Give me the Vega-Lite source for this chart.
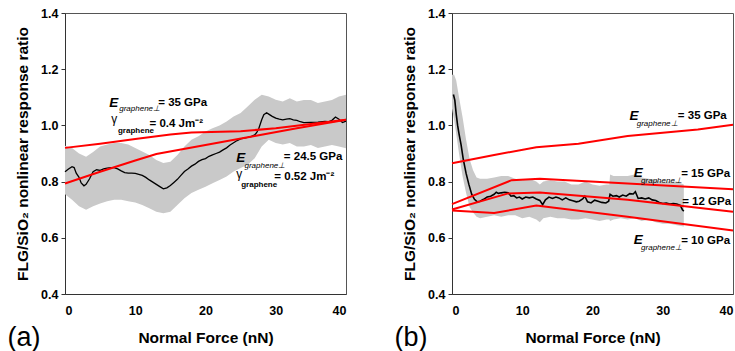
{
  "$schema": "https://vega.github.io/schema/vega-lite/v6.json",
  "padding": {"left": 6, "top": 6, "right": 0, "bottom": 0},
  "background": "white",
  "config": {
    "font": "Liberation Sans",
    "view": {"stroke": "#555", "strokeWidth": 1},
    "axis": {
      "grid": false,
      "domainColor": "#333",
      "tickColor": "#333",
      "labelColor": "#000",
      "titleColor": "#000",
      "labelFont": "Liberation Sans",
      "titleFont": "Liberation Sans",
      "labelFontWeight": "bold",
      "labelFontSize": 12.5,
      "titleFontSize": 15.5,
      "titleFontWeight": "bold"
    }
  },
  "datasets": {
    "bandA": [
      {"x": 0, "y": 0.755, "y2": 0.928}, {"x": 1, "y": 0.735, "y2": 0.92}, {"x": 2, "y": 0.712, "y2": 0.9},
      {"x": 3, "y": 0.7, "y2": 0.888}, {"x": 4, "y": 0.712, "y2": 0.905}, {"x": 5, "y": 0.722, "y2": 0.925},
      {"x": 6, "y": 0.73, "y2": 0.932}, {"x": 7, "y": 0.735, "y2": 0.937}, {"x": 8, "y": 0.735, "y2": 0.937},
      {"x": 9, "y": 0.73, "y2": 0.932}, {"x": 10, "y": 0.726, "y2": 0.92}, {"x": 11, "y": 0.717, "y2": 0.907},
      {"x": 12, "y": 0.705, "y2": 0.895}, {"x": 13, "y": 0.693, "y2": 0.877}, {"x": 14, "y": 0.687, "y2": 0.866},
      {"x": 15, "y": 0.693, "y2": 0.871}, {"x": 16, "y": 0.717, "y2": 0.895}, {"x": 17, "y": 0.741, "y2": 0.925},
      {"x": 18, "y": 0.759, "y2": 0.949}, {"x": 19, "y": 0.771, "y2": 0.961}, {"x": 20, "y": 0.782, "y2": 0.978},
      {"x": 21, "y": 0.794, "y2": 0.99}, {"x": 22, "y": 0.806, "y2": 1.0}, {"x": 23, "y": 0.818, "y2": 1.014},
      {"x": 24, "y": 0.836, "y2": 1.032}, {"x": 25, "y": 0.848, "y2": 1.044}, {"x": 26, "y": 0.86, "y2": 1.067},
      {"x": 27, "y": 0.883, "y2": 1.091}, {"x": 28, "y": 0.925, "y2": 1.109}, {"x": 29, "y": 0.949, "y2": 1.103},
      {"x": 30, "y": 0.937, "y2": 1.091}, {"x": 31, "y": 0.932, "y2": 1.085}, {"x": 32, "y": 0.937, "y2": 1.097},
      {"x": 33, "y": 0.925, "y2": 1.085}, {"x": 34, "y": 0.925, "y2": 1.09}, {"x": 35, "y": 0.93, "y2": 1.09},
      {"x": 36, "y": 0.92, "y2": 1.08}, {"x": 37, "y": 0.925, "y2": 1.085}, {"x": 38, "y": 0.93, "y2": 1.09},
      {"x": 39, "y": 0.925, "y2": 1.103}, {"x": 40, "y": 0.919, "y2": 1.109}
    ],
    "blackA": [
      {"x": 0, "y": 0.835}, {"x": 0.5, "y": 0.845}, {"x": 1, "y": 0.853}, {"x": 1.3, "y": 0.85}, {"x": 1.6, "y": 0.83},
      {"x": 2, "y": 0.815}, {"x": 2.3, "y": 0.795}, {"x": 2.7, "y": 0.785}, {"x": 3, "y": 0.79}, {"x": 3.5, "y": 0.81},
      {"x": 4, "y": 0.835}, {"x": 4.5, "y": 0.842}, {"x": 5, "y": 0.84}, {"x": 5.5, "y": 0.845}, {"x": 6, "y": 0.848},
      {"x": 6.5, "y": 0.85}, {"x": 7, "y": 0.85}, {"x": 7.5, "y": 0.845}, {"x": 8, "y": 0.838}, {"x": 8.5, "y": 0.832},
      {"x": 9, "y": 0.83}, {"x": 9.5, "y": 0.83}, {"x": 10, "y": 0.829}, {"x": 10.5, "y": 0.826}, {"x": 11, "y": 0.822},
      {"x": 11.5, "y": 0.815}, {"x": 12, "y": 0.806}, {"x": 12.5, "y": 0.798}, {"x": 13, "y": 0.79}, {"x": 13.5, "y": 0.782},
      {"x": 14, "y": 0.774}, {"x": 14.5, "y": 0.778}, {"x": 15, "y": 0.786}, {"x": 15.5, "y": 0.797}, {"x": 16, "y": 0.808},
      {"x": 16.5, "y": 0.822}, {"x": 17, "y": 0.836}, {"x": 17.5, "y": 0.845}, {"x": 18, "y": 0.855}, {"x": 18.5, "y": 0.862},
      {"x": 19, "y": 0.872}, {"x": 19.5, "y": 0.878}, {"x": 20, "y": 0.882}, {"x": 20.5, "y": 0.89}, {"x": 21, "y": 0.895},
      {"x": 21.5, "y": 0.9}, {"x": 22, "y": 0.905}, {"x": 22.5, "y": 0.913}, {"x": 23, "y": 0.92}, {"x": 23.5, "y": 0.93},
      {"x": 24, "y": 0.938}, {"x": 24.5, "y": 0.946}, {"x": 25, "y": 0.952}, {"x": 25.5, "y": 0.955}, {"x": 26, "y": 0.957},
      {"x": 26.5, "y": 0.96}, {"x": 27, "y": 0.966}, {"x": 27.3, "y": 0.975}, {"x": 27.6, "y": 0.99}, {"x": 28, "y": 1.02},
      {"x": 28.3, "y": 1.038}, {"x": 28.7, "y": 1.045}, {"x": 29, "y": 1.04}, {"x": 29.5, "y": 1.032}, {"x": 30, "y": 1.026},
      {"x": 30.5, "y": 1.022}, {"x": 31, "y": 1.02}, {"x": 31.5, "y": 1.022}, {"x": 32, "y": 1.024}, {"x": 32.5, "y": 1.02},
      {"x": 33, "y": 1.018}, {"x": 33.5, "y": 1.013}, {"x": 34, "y": 1.01}, {"x": 35, "y": 1.011}, {"x": 36, "y": 1.012},
      {"x": 37, "y": 1.014}, {"x": 37.5, "y": 1.013}, {"x": 38, "y": 1.018}, {"x": 38.5, "y": 1.03}, {"x": 39, "y": 1.022},
      {"x": 39.5, "y": 1.01}, {"x": 40, "y": 1.015}
    ],
    "redA": [
      {"s": "35", "x": 0, "y": 0.92}, {"s": "35", "x": 5, "y": 0.935}, {"s": "35", "x": 10, "y": 0.952},
      {"s": "35", "x": 15, "y": 0.968}, {"s": "35", "x": 18, "y": 0.975}, {"s": "35", "x": 25, "y": 0.979},
      {"s": "35", "x": 30, "y": 0.99}, {"s": "35", "x": 35, "y": 1.005}, {"s": "35", "x": 40, "y": 1.02},
      {"s": "24.5", "x": 0, "y": 0.793}, {"s": "24.5", "x": 5, "y": 0.835}, {"s": "24.5", "x": 10, "y": 0.875},
      {"s": "24.5", "x": 13, "y": 0.898}, {"s": "24.5", "x": 20, "y": 0.93}, {"s": "24.5", "x": 27, "y": 0.962},
      {"s": "24.5", "x": 33, "y": 0.99}, {"s": "24.5", "x": 40, "y": 1.02}
    ],
    "textA": [
      {"r": "E", "t": "E", "x": 6.3, "y": 1.081},
      {"r": "subE", "t": "graphene⊥", "x": 7.72, "y": 1.058},
      {"r": "main", "t": "= 35 GPa", "x": 13.27, "y": 1.079},
      {"r": "g", "t": "γ", "x": 6.59, "y": 1.024},
      {"r": "subg", "t": "graphene", "x": 7.54, "y": 0.98},
      {"r": "main", "t": "= 0.4 Jm⁻²", "x": 12.03, "y": 1.005},
      {"r": "E", "t": "E", "x": 24.37, "y": 0.885},
      {"r": "subE", "t": "graphene⊥", "x": 25.55, "y": 0.857},
      {"r": "main", "t": "= 24.5 GPa", "x": 31.15, "y": 0.886},
      {"r": "g", "t": "γ", "x": 24.37, "y": 0.826},
      {"r": "subg", "t": "graphene", "x": 25.08, "y": 0.787},
      {"r": "main", "t": "= 0.52 Jm⁻²", "x": 29.8, "y": 0.818},
      {"r": "tag", "t": "(a)", "x": -8.2, "y": 0.243}
    ],
    "bandB": [
      {"x": 0, "y": 1.06, "y2": 1.18}, {"x": 0.3, "y": 1.02, "y2": 1.18}, {"x": 0.6, "y": 0.97, "y2": 1.16},
      {"x": 1, "y": 0.9, "y2": 1.1}, {"x": 1.5, "y": 0.82, "y2": 1.03}, {"x": 2, "y": 0.76, "y2": 0.95},
      {"x": 2.5, "y": 0.71, "y2": 0.88}, {"x": 3, "y": 0.69, "y2": 0.84}, {"x": 3.5, "y": 0.675, "y2": 0.815},
      {"x": 4, "y": 0.67, "y2": 0.81}, {"x": 5, "y": 0.675, "y2": 0.81}, {"x": 6, "y": 0.68, "y2": 0.815},
      {"x": 7, "y": 0.675, "y2": 0.82}, {"x": 8, "y": 0.68, "y2": 0.82}, {"x": 9, "y": 0.68, "y2": 0.81},
      {"x": 10, "y": 0.67, "y2": 0.805}, {"x": 11, "y": 0.675, "y2": 0.81}, {"x": 12, "y": 0.665, "y2": 0.8},
      {"x": 12.5, "y": 0.655, "y2": 0.79}, {"x": 13, "y": 0.67, "y2": 0.8}, {"x": 14, "y": 0.675, "y2": 0.805},
      {"x": 15, "y": 0.67, "y2": 0.8}, {"x": 16, "y": 0.67, "y2": 0.8}, {"x": 17, "y": 0.665, "y2": 0.79},
      {"x": 18, "y": 0.665, "y2": 0.79}, {"x": 19, "y": 0.67, "y2": 0.8}, {"x": 20, "y": 0.665, "y2": 0.79},
      {"x": 21, "y": 0.66, "y2": 0.785}, {"x": 22, "y": 0.665, "y2": 0.79}, {"x": 22.4, "y": 0.665, "y2": 0.79},
      {"x": 22.5, "y": 0.66, "y2": 0.825}, {"x": 23, "y": 0.665, "y2": 0.82}, {"x": 24, "y": 0.67, "y2": 0.82},
      {"x": 25, "y": 0.665, "y2": 0.82}, {"x": 26, "y": 0.67, "y2": 0.825}, {"x": 27, "y": 0.66, "y2": 0.815},
      {"x": 28, "y": 0.665, "y2": 0.81}, {"x": 29, "y": 0.655, "y2": 0.805}, {"x": 30, "y": 0.65, "y2": 0.8},
      {"x": 31, "y": 0.65, "y2": 0.8}, {"x": 32, "y": 0.645, "y2": 0.8}, {"x": 33, "y": 0.64, "y2": 0.79}
    ],
    "blackB": [
      {"x": 0.2, "y": 1.11}, {"x": 0.4, "y": 1.09}, {"x": 0.6, "y": 1.04}, {"x": 0.8, "y": 1.0}, {"x": 1.0, "y": 0.97},
      {"x": 1.3, "y": 0.93}, {"x": 1.6, "y": 0.88}, {"x": 2.0, "y": 0.83}, {"x": 2.4, "y": 0.79}, {"x": 2.8, "y": 0.755},
      {"x": 3.2, "y": 0.737}, {"x": 3.6, "y": 0.728}, {"x": 4.0, "y": 0.73}, {"x": 4.5, "y": 0.737}, {"x": 5.0, "y": 0.745},
      {"x": 5.5, "y": 0.748}, {"x": 6.0, "y": 0.755}, {"x": 6.3, "y": 0.762}, {"x": 6.6, "y": 0.758}, {"x": 7.0, "y": 0.76},
      {"x": 7.5, "y": 0.762}, {"x": 8.0, "y": 0.76}, {"x": 8.4, "y": 0.748}, {"x": 8.8, "y": 0.75}, {"x": 9.2, "y": 0.742},
      {"x": 9.6, "y": 0.745}, {"x": 10.0, "y": 0.738}, {"x": 10.5, "y": 0.745}, {"x": 11.0, "y": 0.742}, {"x": 11.5, "y": 0.745},
      {"x": 12.0, "y": 0.738}, {"x": 12.5, "y": 0.733}, {"x": 12.9, "y": 0.718}, {"x": 13.3, "y": 0.735}, {"x": 13.8, "y": 0.745},
      {"x": 14.3, "y": 0.74}, {"x": 14.8, "y": 0.745}, {"x": 15.2, "y": 0.742}, {"x": 15.7, "y": 0.735}, {"x": 16.2, "y": 0.742},
      {"x": 16.7, "y": 0.735}, {"x": 17.2, "y": 0.732}, {"x": 17.7, "y": 0.728}, {"x": 18.1, "y": 0.73}, {"x": 18.6, "y": 0.738},
      {"x": 18.9, "y": 0.748}, {"x": 19.3, "y": 0.728}, {"x": 19.8, "y": 0.724}, {"x": 20.3, "y": 0.734}, {"x": 20.8, "y": 0.73},
      {"x": 21.3, "y": 0.726}, {"x": 21.9, "y": 0.724}, {"x": 22.3, "y": 0.73}, {"x": 22.5, "y": 0.755}, {"x": 22.9, "y": 0.748},
      {"x": 23.4, "y": 0.75}, {"x": 23.8, "y": 0.745}, {"x": 24.3, "y": 0.752}, {"x": 24.8, "y": 0.748}, {"x": 25.3, "y": 0.757},
      {"x": 25.8, "y": 0.756}, {"x": 26.1, "y": 0.764}, {"x": 26.5, "y": 0.74}, {"x": 27.0, "y": 0.742}, {"x": 27.5, "y": 0.738},
      {"x": 28.0, "y": 0.742}, {"x": 28.5, "y": 0.735}, {"x": 29.0, "y": 0.733}, {"x": 29.5, "y": 0.726}, {"x": 30.0, "y": 0.722},
      {"x": 30.5, "y": 0.724}, {"x": 31.0, "y": 0.72}, {"x": 31.5, "y": 0.722}, {"x": 32.0, "y": 0.72}, {"x": 32.5, "y": 0.715},
      {"x": 32.8, "y": 0.7}, {"x": 33.0, "y": 0.695}
    ],
    "redB": [
      {"s": "35", "x": 0, "y": 0.865}, {"s": "35", "x": 6, "y": 0.895}, {"s": "35", "x": 12, "y": 0.922},
      {"s": "35", "x": 18, "y": 0.935}, {"s": "35", "x": 25, "y": 0.962}, {"s": "35", "x": 35, "y": 0.985},
      {"s": "35", "x": 40, "y": 1.002},
      {"s": "15", "x": 0, "y": 0.72}, {"s": "15", "x": 8.5, "y": 0.805}, {"s": "15", "x": 12.5, "y": 0.81},
      {"s": "15", "x": 25, "y": 0.793}, {"s": "15", "x": 40, "y": 0.773},
      {"s": "12", "x": 0, "y": 0.701}, {"s": "12", "x": 8, "y": 0.758}, {"s": "12", "x": 12.5, "y": 0.761},
      {"s": "12", "x": 25, "y": 0.735}, {"s": "12", "x": 40, "y": 0.693},
      {"s": "10", "x": 0, "y": 0.697}, {"s": "10", "x": 6, "y": 0.688}, {"s": "10", "x": 12, "y": 0.715},
      {"s": "10", "x": 25, "y": 0.675}, {"s": "10", "x": 40, "y": 0.626}
    ],
    "textB": [
      {"r": "E", "t": "E", "x": 25.26, "y": 1.035},
      {"r": "subE", "t": "graphene⊥", "x": 26.3, "y": 1.005},
      {"r": "main", "t": "= 35 GPa", "x": 32.15, "y": 1.033},
      {"r": "E", "t": "E", "x": 25.88, "y": 0.832},
      {"r": "subE", "t": "graphene⊥", "x": 26.92, "y": 0.802},
      {"r": "main", "t": "= 15 GPa", "x": 32.62, "y": 0.828},
      {"r": "main", "t": "= 12 GPa", "x": 32.76, "y": 0.727},
      {"r": "E", "t": "E", "x": 25.88, "y": 0.593},
      {"r": "subE", "t": "graphene⊥", "x": 26.92, "y": 0.563},
      {"r": "main", "t": "= 10 GPa", "x": 32.62, "y": 0.59},
      {"r": "tag", "t": "(b)", "x": -8.2, "y": 0.243}
    ]
  },
  "bounds": "flush",
  "spacing": 106,
  "hconcat": [
    {
      "width": 281,
      "height": 281,
      "layer": [
        {
          "data": {"name": "bandA"},
          "mark": {"type": "area", "color": "#c9c9c9"},
          "encoding": {
            "x": {"field": "x", "type": "quantitative", "scale": {"domain": [0, 40], "nice": false},
              "axis": {"title": "Normal Force (nN)", "values": [0, 5, 10, 15, 20, 25, 30, 35, 40],
                "labelExpr": "datum.value % 10 == 0 ? format(datum.value, 'd') : ''",
                "tickSize": 0, "labelPadding": 10, "titlePadding": 14,
                "encode": {"ticks": {"update": {"y2": {"signal": "datum.value % 10 == 0 ? -4 : -2.5"}}}}}},
            "y": {"field": "y", "type": "quantitative", "scale": {"domain": [0.4, 1.4], "nice": false},
              "axis": {"title": "FLG/SiO₂ nonlinear response ratio", "values": [0.4, 0.5, 0.6, 0.7, 0.8, 0.9, 1.0, 1.1, 1.2, 1.3, 1.4],
                "labelExpr": "round(datum.value * 10) % 2 == 0 ? format(datum.value, '.1f') : ''",
                "tickSize": 4, "labelPadding": 3, "titlePadding": 10,
                "encode": {"ticks": {"update": {"x2": {"signal": "round(datum.value * 10) % 2 == 0 ? -4 : -2.5"}}}}}},
            "y2": {"field": "y2"}
          }
        },
        {
          "data": {"name": "blackA"},
          "mark": {"type": "line", "color": "#000", "strokeWidth": 1.3},
          "encoding": {"x": {"field": "x", "type": "quantitative"}, "y": {"field": "y", "type": "quantitative"}}
        },
        {
          "data": {"name": "redA"},
          "mark": {"type": "line", "color": "#ff0000", "strokeWidth": 2},
          "encoding": {"x": {"field": "x", "type": "quantitative"}, "y": {"field": "y", "type": "quantitative"}, "detail": {"field": "s"}}
        },
        {
          "data": {"name": "textA"},
          "transform": [{"filter": "datum.r == 'E'"}],
          "mark": {"type": "text", "align": "left", "baseline": "middle", "fontSize": 13.5, "fontWeight": "bold", "fontStyle": "italic", "color": "#000"},
          "encoding": {"x": {"field": "x", "type": "quantitative"}, "y": {"field": "y", "type": "quantitative"}, "text": {"field": "t"}}
        },
        {
          "data": {"name": "textA"},
          "transform": [{"filter": "datum.r == 'g'"}],
          "mark": {"type": "text", "align": "left", "baseline": "middle", "fontSize": 12, "color": "#000"},
          "encoding": {"x": {"field": "x", "type": "quantitative"}, "y": {"field": "y", "type": "quantitative"}, "text": {"field": "t"}}
        },
        {
          "data": {"name": "textA"},
          "transform": [{"filter": "datum.r == 'subE'"}],
          "mark": {"type": "text", "align": "left", "baseline": "middle", "fontSize": 8, "fontStyle": "italic", "color": "#000"},
          "encoding": {"x": {"field": "x", "type": "quantitative"}, "y": {"field": "y", "type": "quantitative"}, "text": {"field": "t"}}
        },
        {
          "data": {"name": "textA"},
          "transform": [{"filter": "datum.r == 'subg'"}],
          "mark": {"type": "text", "align": "left", "baseline": "middle", "fontSize": 8, "fontWeight": "bold", "color": "#000"},
          "encoding": {"x": {"field": "x", "type": "quantitative"}, "y": {"field": "y", "type": "quantitative"}, "text": {"field": "t"}}
        },
        {
          "data": {"name": "textA"},
          "transform": [{"filter": "datum.r == 'main'"}],
          "mark": {"type": "text", "align": "left", "baseline": "middle", "fontSize": 11.5, "fontWeight": "bold", "color": "#000"},
          "encoding": {"x": {"field": "x", "type": "quantitative"}, "y": {"field": "y", "type": "quantitative"}, "text": {"field": "t"}}
        },
        {
          "data": {"name": "textA"},
          "transform": [{"filter": "datum.r == 'tag'"}],
          "mark": {"type": "text", "align": "left", "baseline": "middle", "fontSize": 27, "color": "#000"},
          "encoding": {"x": {"field": "x", "type": "quantitative"}, "y": {"field": "y", "type": "quantitative"}, "text": {"field": "t"}}
        }
      ]
    },
    {
      "width": 281,
      "height": 281,
      "layer": [
        {
          "data": {"name": "bandB"},
          "mark": {"type": "area", "color": "#c9c9c9"},
          "encoding": {
            "x": {"field": "x", "type": "quantitative", "scale": {"domain": [0, 40], "nice": false},
              "axis": {"title": "Normal Force (nN)", "values": [0, 5, 10, 15, 20, 25, 30, 35, 40],
                "labelExpr": "datum.value % 10 == 0 ? format(datum.value, 'd') : ''",
                "tickSize": 0, "labelPadding": 10, "titlePadding": 14,
                "encode": {
                  "ticks": {"update": {"y2": {"signal": "datum.value % 10 == 0 ? -4 : -2.5"}}},
                  "labels": {"update": {"align": {"signal": "datum.value >= 40 ? 'right' : 'center'"}, "dx": {"signal": "datum.value >= 40 ? 3 : 0"}}}
                }}},
            "y": {"field": "y", "type": "quantitative", "scale": {"domain": [0.4, 1.4], "nice": false},
              "axis": {"title": "FLG/SiO₂ nonlinear response ratio", "values": [0.4, 0.5, 0.6, 0.7, 0.8, 0.9, 1.0, 1.1, 1.2, 1.3, 1.4],
                "labelExpr": "round(datum.value * 10) % 2 == 0 ? format(datum.value, '.1f') : ''",
                "tickSize": 4, "labelPadding": 3, "titlePadding": 10,
                "encode": {"ticks": {"update": {"x2": {"signal": "round(datum.value * 10) % 2 == 0 ? -4 : -2.5"}}}}}},
            "y2": {"field": "y2"}
          }
        },
        {
          "data": {"name": "blackB"},
          "mark": {"type": "line", "color": "#000", "strokeWidth": 1.6},
          "encoding": {"x": {"field": "x", "type": "quantitative"}, "y": {"field": "y", "type": "quantitative"}}
        },
        {
          "data": {"name": "redB"},
          "mark": {"type": "line", "color": "#ff0000", "strokeWidth": 2},
          "encoding": {"x": {"field": "x", "type": "quantitative"}, "y": {"field": "y", "type": "quantitative"}, "detail": {"field": "s"}}
        },
        {
          "data": {"name": "textB"},
          "transform": [{"filter": "datum.r == 'E'"}],
          "mark": {"type": "text", "align": "left", "baseline": "middle", "fontSize": 13.5, "fontWeight": "bold", "fontStyle": "italic", "color": "#000"},
          "encoding": {"x": {"field": "x", "type": "quantitative"}, "y": {"field": "y", "type": "quantitative"}, "text": {"field": "t"}}
        },
        {
          "data": {"name": "textB"},
          "transform": [{"filter": "datum.r == 'subE'"}],
          "mark": {"type": "text", "align": "left", "baseline": "middle", "fontSize": 8, "fontStyle": "italic", "color": "#000"},
          "encoding": {"x": {"field": "x", "type": "quantitative"}, "y": {"field": "y", "type": "quantitative"}, "text": {"field": "t"}}
        },
        {
          "data": {"name": "textB"},
          "transform": [{"filter": "datum.r == 'main'"}],
          "mark": {"type": "text", "align": "left", "baseline": "middle", "fontSize": 11.5, "fontWeight": "bold", "color": "#000"},
          "encoding": {"x": {"field": "x", "type": "quantitative"}, "y": {"field": "y", "type": "quantitative"}, "text": {"field": "t"}}
        },
        {
          "data": {"name": "textB"},
          "transform": [{"filter": "datum.r == 'tag'"}],
          "mark": {"type": "text", "align": "left", "baseline": "middle", "fontSize": 27, "color": "#000"},
          "encoding": {"x": {"field": "x", "type": "quantitative"}, "y": {"field": "y", "type": "quantitative"}, "text": {"field": "t"}}
        }
      ]
    }
  ]
}
